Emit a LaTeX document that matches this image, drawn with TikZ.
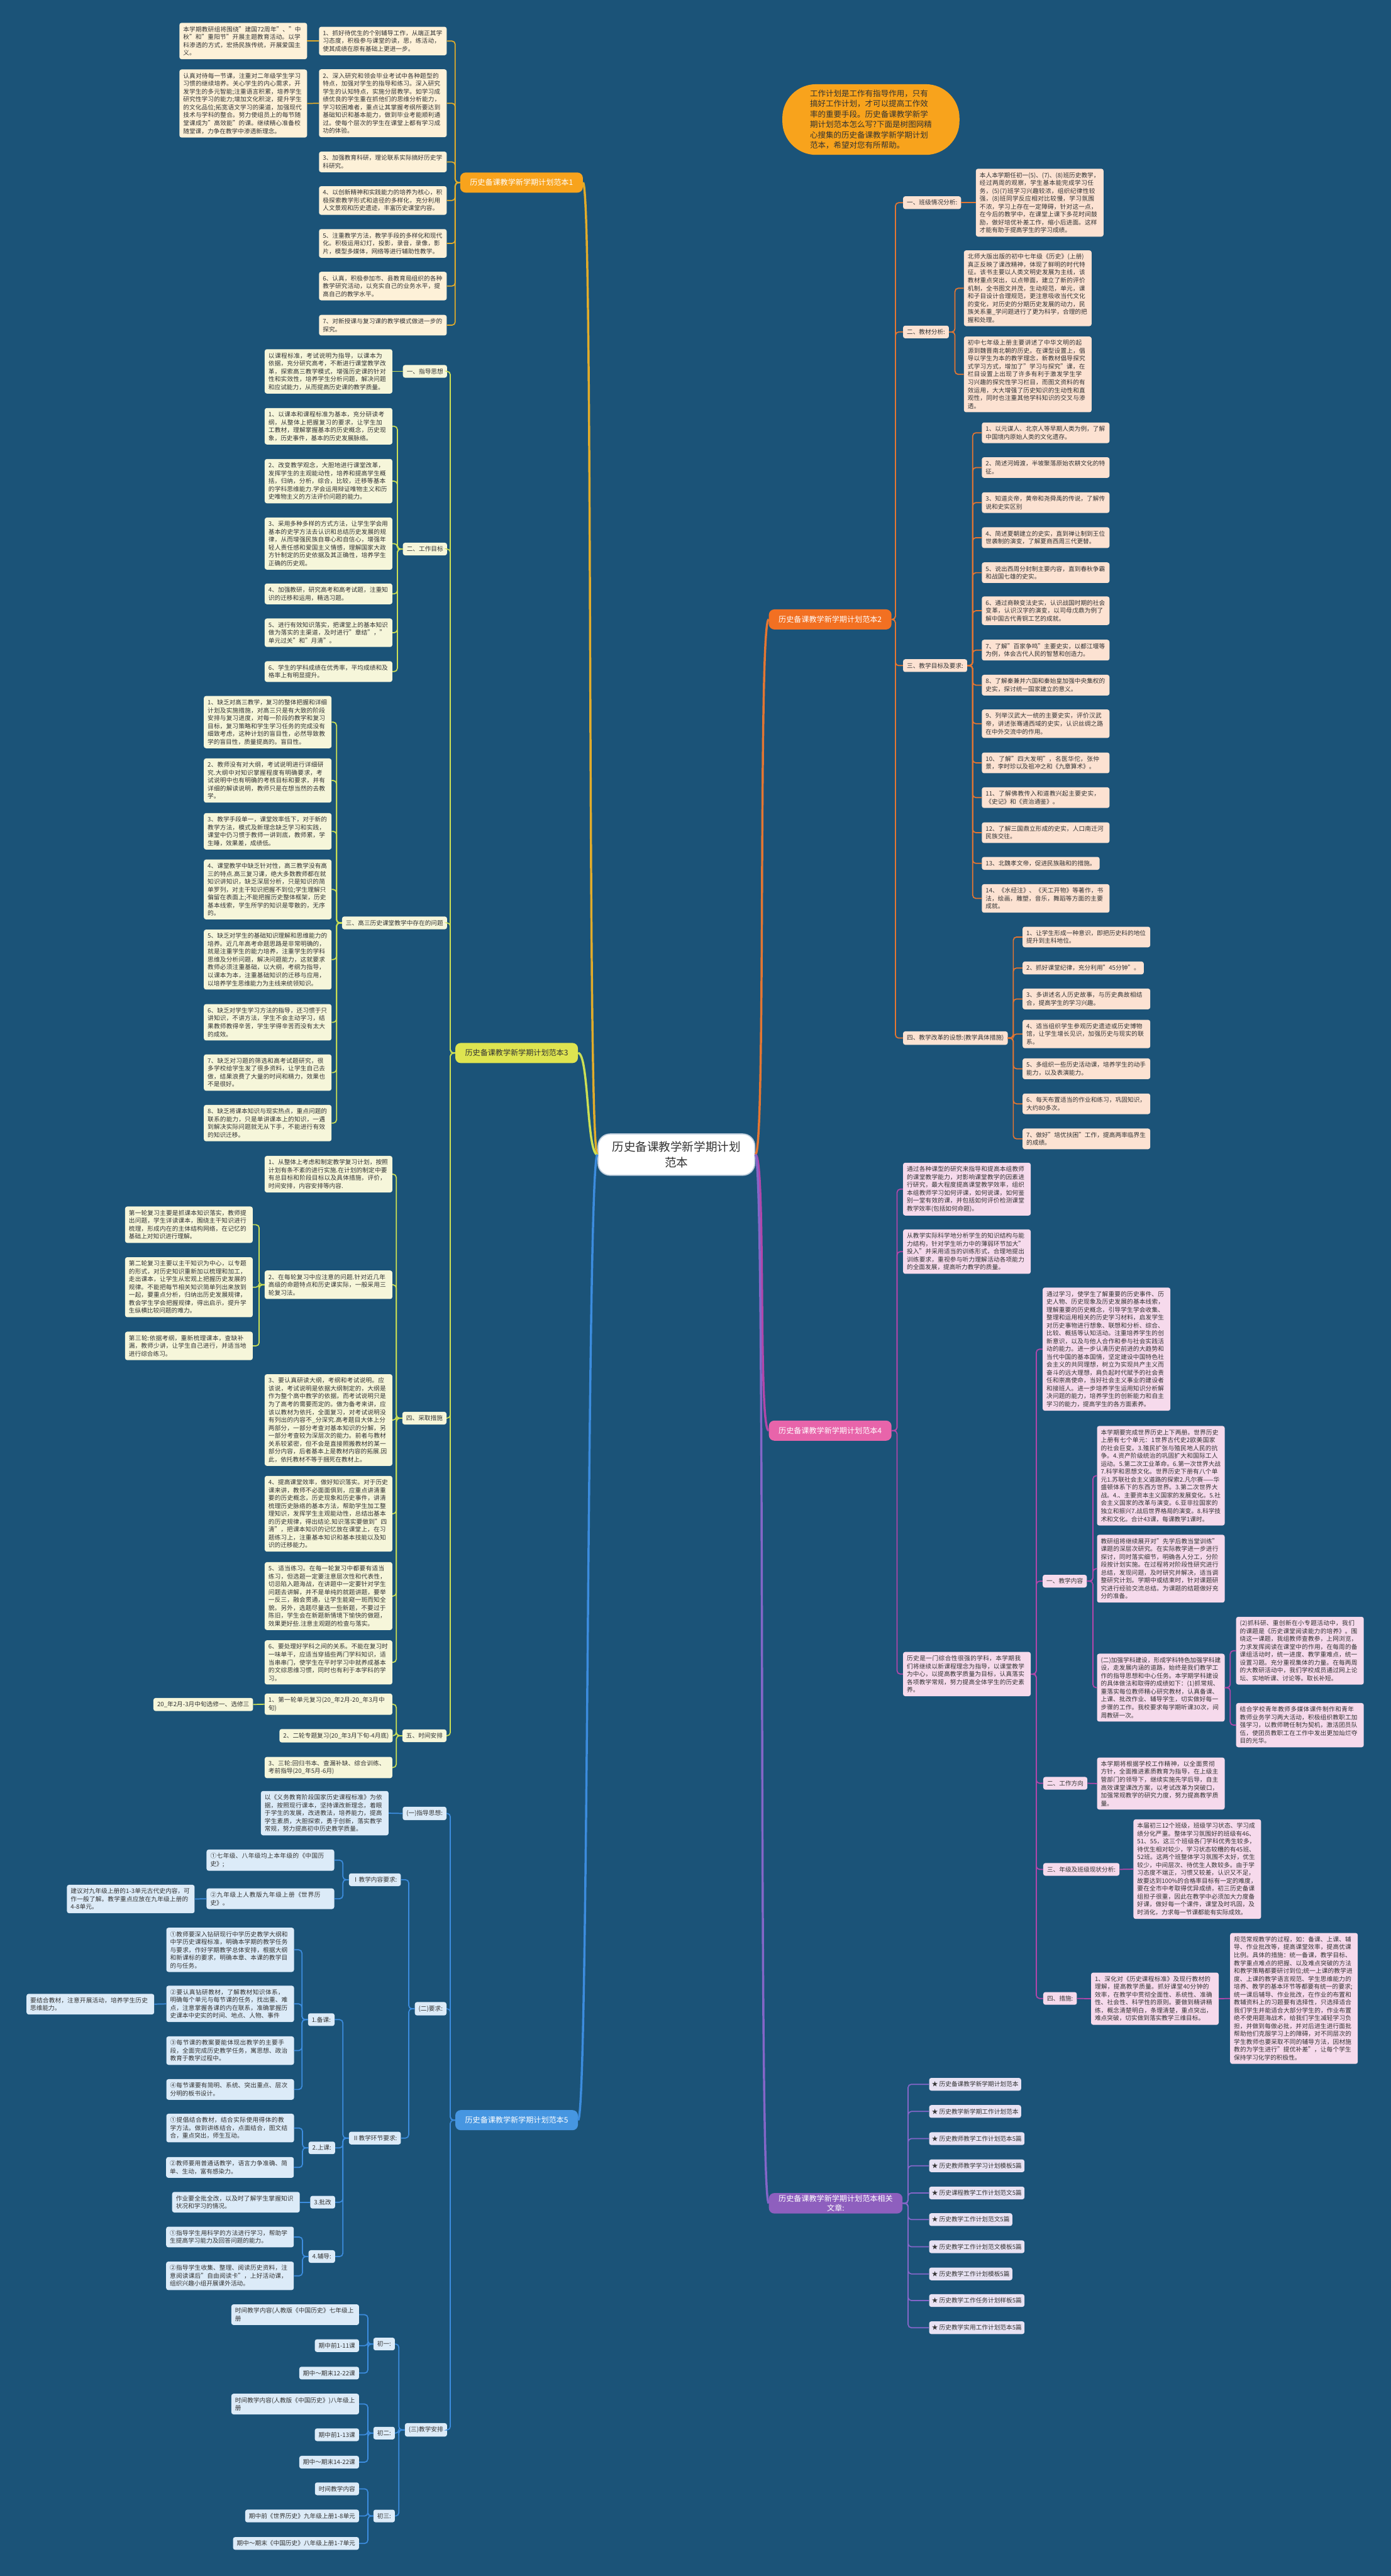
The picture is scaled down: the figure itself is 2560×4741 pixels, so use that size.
\documentclass[tikz,border=0pt]{standalone}
\usepackage{fontspec}
\setmainfont{Noto Sans CJK SC}
\XeTeXlinebreaklocale "zh"
\XeTeXlinebreakskip = 0pt plus 1pt
\definecolor{bg}{RGB}{27,83,120}
\definecolor{tx}{RGB}{51,51,51}
\definecolor{cbd}{RGB}{190,205,220}
\definecolor{oA}{RGB}{248,163,28}
\definecolor{lnA}{RGB}{226,172,42}
\definecolor{fA}{RGB}{253,241,216}
\definecolor{oB}{RGB}{242,112,34}
\definecolor{lnB}{RGB}{228,118,50}
\definecolor{fB}{RGB}{252,226,210}
\definecolor{yC}{RGB}{222,228,80}
\definecolor{lnC}{RGB}{204,224,84}
\definecolor{fC}{RGB}{246,246,218}
\definecolor{pD}{RGB}{232,100,170}
\definecolor{lnD}{RGB}{178,70,170}
\definecolor{fD}{RGB}{246,218,236}
\definecolor{bE}{RGB}{70,150,225}
\definecolor{lnE}{RGB}{60,140,222}
\definecolor{fE}{RGB}{220,235,248}
\definecolor{vF}{RGB}{142,95,190}
\definecolor{lnF}{RGB}{132,102,200}
\definecolor{fF}{RGB}{232,226,243}
\newcommand\fsn{\fontsize{11.2pt}{14.5pt}\selectfont}
\newcommand\fsb{\fontsize{14pt}{18pt}\selectfont}
\newcommand\fsc{\fontsize{21.5pt}{28pt}\selectfont}
\newcommand\fsk{\fontsize{14.5pt}{19.1pt}\selectfont}
\tikzset{
  bx/.style={rounded corners=4pt, inner xsep=7pt, inner ysep=6.5pt, font=\fsn, align=left, text=tx},
  nA/.style={bx, fill=fA, text width=221pt}, tA/.style={bx, fill=fA}, cA/.style={draw=lnA, line width=2pt, rounded corners=6pt},
  nB/.style={bx, fill=fB, text width=221pt}, tB/.style={bx, fill=fB}, cB/.style={draw=lnB, line width=2pt, rounded corners=6pt},
  nC/.style={bx, fill=fC, text width=221pt}, tC/.style={bx, fill=fC}, cC/.style={draw=lnC, line width=2pt, rounded corners=6pt},
  nD/.style={bx, fill=fD, text width=221pt}, tD/.style={bx, fill=fD}, cD/.style={draw=lnD, line width=2pt, rounded corners=6pt},
  nE/.style={bx, fill=fE, text width=221pt}, tE/.style={bx, fill=fE}, cE/.style={draw=lnE, line width=2pt, rounded corners=6pt},
  tF/.style={bx, fill=fF, inner xsep=5pt}, cF/.style={draw=lnF, line width=2pt, rounded corners=6pt},
  brn/.style={rounded corners=10pt, inner xsep=18pt, minimum height=37pt, font=\fsb, align=center},
  mline/.style={line width=4pt},
}
\begin{document}
\begin{tikzpicture}[x=1pt,y=-1pt]
\fill[bg] (0,0) rectangle (2560,4741);
\useasboundingbox (0,0) rectangle (2560,4741);

% ---------- centre ----------
\node[draw=cbd, line width=2pt, fill=white, rounded corners=22pt, inner xsep=26pt, inner ysep=14pt, font=\fsc, align=center, text=tx] (c) at (1245,2125) {历史备课教学新学期计划\\范本};

% ---------- callout ----------
\node[fill=oA, rounded corners=62pt, minimum width=326pt, minimum height=130pt, font=\fsk, align=left, text=tx] (k) at (1603,220) {工作计划是工作有指导作用，只有\\搞好工作计划，才可以提高工作效\\率的重要手段。历史备课教学新学\\期计划范本怎么写?下面是树图网精\\心搜集的历史备课教学新学期计划\\范本，希望对您有所帮助。};

% ---------- branch 1 ----------
\node[brn, fill=oA, text=white, anchor=east] (b1) at (1073,336) {历史备课教学新学期计划范本1};
\node[nA, anchor=west] (a1) at (587,75.5) {1、抓好待优生的个别辅导工作，从端正其学习态度，积极参与课堂的读，思，练活动，使其成绩在原有基础上更进一步。};
\node[nA, anchor=west] (a2) at (587,190) {2、深入研究和领会毕业考试中各种题型的特点，加强对学生的指导和练习。深入研究学生的认知特点，实施分层教学。如学习成绩优良的学生重在抓他们的思维分析能力，学习较困难者，重点让其掌握考纲所要达到基础知识和基本能力，做到毕业考能顺利通过。使每个层次的学生在课堂上都有学习成功的体验。};
\node[nA, anchor=west] (a3) at (587,298) {3、加强教育科研，理论联系实际搞好历史学科研究。};
\node[nA, anchor=west] (a4) at (587,369) {4、以创新精神和实践能力的培养为核心，积极探索教学形式和途径的多样化，充分利用人文景观和历史遗迹，丰富历史课堂内容。};
\node[nA, anchor=west] (a5) at (587,448) {5、注重教学方法，教学手段的多样化和现代化。积极运用幻灯，投影，录音，录像，影片，模型多媒体，网络等进行辅助性教学。};
\node[nA, anchor=west] (a6) at (587,526.5) {6、认真，积极参加市、县教育局组织的各种教学研究活动，以充实自己的业务水平，提高自己的教学水平。};
\node[nA, anchor=west] (a7) at (587,598.5) {7、对新授课与复习课的教学模式做进一步的探究。};
\node[nA, anchor=west] (a1n) at (330,75.5) {本学期教研组将围绕"建国72周年"、"中秋"和"重阳节"开展主题教育活动。以学科渗透的方式，宏扬民族传统，开展爱国主义。};
\node[nA, anchor=west] (a2n) at (330,190.5) {认真对待每一节课，注重对二年级学生学习习惯的继续培养。关心学生的内心需求，开发学生的多元智能;注重语言积累，培养学生研究性学习的能力;增加文化积淀，提升学生的文化品位;拓宽语文学习的渠道，加强现代技术与学科的整合。努力使组员上的每节随堂课成为"高效能"的课。继续精心准备校随堂课，力争在教学中渗透新理念。};
\foreach \i in {a1,a2,a3,a4,a5,a6,a7} \draw[cA] (b1.west) -- ++(-9pt,0) |- (\i.east);
\draw[cA] (a1.west) -- (a1n.east);
\draw[cA] (a2.west) -- (a2n.east);

% ---------- branch 2 ----------
\node[brn, fill=oB, text=white, anchor=west] (b2) at (1415,1140) {历史备课教学新学期计划范本2};
\node[tB, anchor=west] (r1) at (1662,373) {一、班级情况分析:};
\node[nB, anchor=west] (r1n) at (1796,373) {本人本学期任初一(5)、(7)、(8)班历史教学，经过两周的观察，学生基本能完成学习任务，(5)(7)班学习兴趣较浓，组织纪律性较强，(8)班同学反应相对比较慢，学习氛围不浓，学习上存在一定障碍，针对这一点，在今后的教学中，在课堂上课下多花时间鼓励，做好培优补差工作，缩小后进面。这样才能有助于提高学生的学习成绩。};
\node[tB, anchor=west] (r2) at (1662,611) {二、教材分析:};
\node[nB, anchor=west] (r2a) at (1774,530.5) {北师大版出版的初中七年级《历史》(上册)真正反映了课改精神，体现了鲜明的时代特征。该书主要以人类文明史发展为主线，该教材重点突出，以点带面，建立了新的评价机制，全书图文并茂，生动规范，单元，课和子目设计合理规范，更注意吸收当代文化的变化，对历史的分期历史发展的动力，民族关系重\_学问题进行了更为科学，合理的把握和处理。};
\node[nB, anchor=west] (r2b) at (1774,689) {初中七年级上册主要讲述了中华文明的起源到魏晋南北朝的历史。在课型设置上，倡导以学生为本的教学理念，新教材倡导探究式学习方式，增加了"学习与探究"课，在栏目设置上出现了许多有利于激发学生学习兴趣的探究性学习栏目，而图文资料的有效运用，大大增强了历史知识的生动性和直观性，同时也注重其他学科知识的交叉与渗透。};
\node[tB, anchor=west] (r3) at (1662,1225) {三、教学目标及要求:};
\node[nB, anchor=west] (q1) at (1807,796.5) {1、以元谋人、北京人等早期人类为例，了解中国境内原始人类的文化遗存。};
\node[nB, anchor=west] (q2) at (1807,860.5) {2、简述河姆渡，半坡聚落原始农耕文化的特征。};
\node[nB, anchor=west] (q3) at (1807,925) {3、知道炎帝，黄帝和尧舜禹的传说，了解传说和史实区别};
\node[nB, anchor=west] (q4) at (1807,989.5) {4、简述夏朝建立的史实，直到禅让制到王位世袭制的演变，了解夏商西周三代更替。};
\node[nB, anchor=west] (q5) at (1807,1054) {5、说出西周分封制主要内容，直到春秋争霸和战国七雄的史实。};
\node[nB, anchor=west] (q6) at (1807,1124) {6、通过商鞅变法史实，认识战国时期的社会变革，认识汉字的演变，以司母戊鼎为例了解中国古代青铜工艺的成就。};
\node[nB, anchor=west] (q7) at (1807,1196.5) {7、了解"百家争鸣"主要史实，以都江堰等为例，体会古代人民的智慧和创造力。};
\node[nB, anchor=west] (q8) at (1807,1261) {8、了解秦兼并六国和秦始皇加强中央集权的史实，探讨统一国家建立的意义。};
\node[nB, anchor=west] (q9) at (1807,1332) {9、列举汉武大一统的主要史实，评价汉武帝，讲述张骞通西域的史实，认识丝绸之路在中外交流中的作用。};
\node[nB, anchor=west] (q10) at (1807,1404) {10、了解"四大发明"，名医华佗，张仲景，李时珍以及祖冲之和《九章算术》。};
\node[nB, anchor=west] (q11) at (1807,1468) {11、了解佛教传入和道教兴起主要史实，《史记》和《资治通鉴》。};
\node[nB, anchor=west] (q12) at (1807,1532.5) {12、了解三国鼎立形成的史实，人口南迁河民族交往。};
\node[tB, anchor=west] (q13) at (1807,1589) {13、北魏孝文帝，促进民族融和的措施。};
\node[nB, anchor=west] (q14) at (1807,1653.5) {14、《水经注》、《天工开物》等著作，书法，绘画，雕塑，音乐，舞蹈等方面的主要成就。};
\node[tB, anchor=west] (r4) at (1662,1910.5) {四、教学改革的设想:(教学具体措施)};
\node[nB, anchor=west] (s1) at (1882,1724.5) {1、让学生形成一种意识，即把历史科的地位提升到主科地位。};
\node[tB, anchor=west] (s2) at (1882,1781.5) {2、抓好课堂纪律，充分利用"45分钟"。};
\node[nB, anchor=west] (s3) at (1882,1838.5) {3、多讲述名人历史故事，与历史典故相结合，提高学生的学习兴趣。};
\node[nB, anchor=west] (s4) at (1882,1903) {4、适当组织学生参观历史遗迹或历史博物馆，让学生增长见识，加强历史与现实的联系。};
\node[nB, anchor=west] (s5) at (1882,1967) {5、多组织一些历史活动课，培养学生的动手能力，以及表演能力。};
\node[nB, anchor=west] (s6) at (1882,2031.5) {6、每天布置适当的作业和练习，巩固知识，大约80多次。};
\node[nB, anchor=west] (s7) at (1882,2096) {7、做好"培优扶困"工作，提高两率临界生的成绩。};
\foreach \i in {r1,r2,r3,r4} \draw[cB] (b2.east) -- ++(7pt,0) |- (\i.west);
\draw[cB] (r1.east) -- (r1n.west);
\foreach \i in {r2a,r2b} \draw[cB] (r2.east) -- ++(11pt,0) |- (\i.west);
\foreach \i in {q1,q2,q3,q4,q5,q6,q7,q8,q9,q10,q11,q12,q13,q14} \draw[cB] (r3.east) -- ++(10pt,0) |- (\i.west);
\foreach \i in {s1,s2,s3,s4,s5,s6,s7} \draw[cB] (r4.east) -- ++(10pt,0) |- (\i.west);

% ---------- branch 3 ----------
\node[brn, fill=yC, text=tx, anchor=east] (b3) at (1064,1938) {历史备课教学新学期计划范本3};
\node[tC, anchor=east] (g1) at (823,683.5) {一、指导思想};
\node[nC, anchor=west] (g1n) at (487,683.5) {以课程标准，考试说明为指导，以课本为依据，充分研究高考，不断进行课堂教学改革，探索高三教学模式，增强历史课的针对性和实效性，培养学生分析问题，解决问题和应试能力，从而提高历史课的教学质量。};
\node[tC, anchor=east] (g2) at (823,1010.5) {二、工作目标};
\node[nC, anchor=west] (h1) at (487,784.5) {1、以课本和课程标准为基本，充分研读考纲，从整体上把握复习的要求，让学生加工教材，理解掌握基本的历史概念，历史现象，历史事件，基本的历史发展脉络。};
\node[nC, anchor=west] (h2) at (487,885.5) {2、改变教学观念，大胆地进行课堂改革，发挥学生的主观能动性，培养和提高学生概括，归纳，分析，综合，比较，迁移等基本的学科思维能力.学会运用辩证唯物主义和历史唯物主义的方法评价问题的能力。};
\node[nC, anchor=west] (h3) at (487,1000.5) {3、采用多种多样的方式方法，让学生学会用基本的史学方法去认识和总结历史发展的规律，从而增强民族自尊心和自信心，增强年轻人责任感和爱国主义情感，理解国家大政方针制定的历史依据及其正确性，培养学生正确的历史观。};
\node[nC, anchor=west] (h4) at (487,1093) {4、加强教研，研究高考和高考试题，注重知识的迁移和运用，精选习题。};
\node[nC, anchor=west] (h5) at (487,1164.5) {5、进行有效知识落实，把课堂上的基本知识做为落实的主渠道，及时进行"章结"，"单元过关"和"月清"。};
\node[nC, anchor=west] (h6) at (487,1236) {6、学生的学科成绩在优秀率，平均成绩和及格率上有明显提升。};
\node[tC, anchor=east] (g3) at (823,1698.5) {三、高三历史课堂教学中存在的问题};
\node[nC, anchor=west] (p1) at (375,1329) {1、缺乏对高三教学，复习的整体把握和详细计划及实施措施，对高三只是有大致的阶段安排与复习进度，对每一阶段的教学和复习目标，复习策略和学生学习任务的完成没有细致考虑，这种计划的盲目性，必然导致教学的盲目性，质量提高的。盲目性。};
\node[nC, anchor=west] (p2) at (375,1436.5) {2、教师没有对大纲，考试说明进行详细研究.大纲中对知识掌握程度有明确要求，考试说明中也有明确的考核目标和要求，并有详细的解读说明，教师只是在想当然的去教学。};
\node[nC, anchor=west] (p3) at (375,1530) {3、教学手段单一，课堂效率低下，对于新的教学方法，模式及新理念缺乏学习和实践，课堂中仍习惯于教师一讲到底，教师累，学生睡，效果差，成绩低。};
\node[nC, anchor=west] (p4) at (375,1637) {4、课堂教学中缺乏针对性，高三教学没有高三的特点.高三复习课，绝大多数教师都在就知识讲知识，缺乏深层分析，只是知识的简单罗列，对主干知识把握不到位;学生理解只偏留在表面上;不能把握历史整体框架，历史基本线索，学生所学的知识是零散的，无序的。};
\node[nC, anchor=west] (p5) at (375,1766) {5、缺乏对学生的基础知识理解和思维能力的培养。近几年高考命题思路是非常明确的，就是注重学生的能力培养，注重学生的学科思维及分析问题，解决问题能力，这就要求教师必须注重基础，以大纲，考纲为指导，以课本为本，注重基础知识的迁移与应用，以培养学生思维能力为主线来统领知识。};
\node[nC, anchor=west] (p6) at (375,1881.5) {6、缺乏对学生学习方法的指导，还习惯于只讲知识，不讲方法，学生不会主动学习，结果教师教得辛苦，学生学得辛苦而没有太大的成效。};
\node[nC, anchor=west] (p7) at (375,1974) {7、缺乏对习题的筛选和高考试题研究，很多学校给学生发了很多资料，让学生自己去做，结果浪费了大量的时间和精力，效果也不是很好。};
\node[nC, anchor=west] (p8) at (375,2067) {8、缺乏将课本知识与现实热点，重点问题的联系的能力，只是单讲课本上的知识，一遇到解决实际问题就无从下手，不能进行有效的知识迁移。};
\node[tC, anchor=east] (g4) at (822,2610) {四、采取措施};
\node[nC, anchor=west] (m1) at (487,2161) {1、从整体上考虑和制定教学复习计划，按照计划有条不紊的进行实施.在计划的制定中要有总目标和阶段目标以及具体措施，评价，时间安排，内容安排等内容.};
\node[nC, anchor=west] (m2) at (487,2364.5) {2、在每轮复习中应注意的问题.针对近几年高级的命题特点和历史课实际，一般采用三轮复习法。};
\node[nC, anchor=west] (m3) at (487,2613.5) {3、要认真研读大纲，考纲和考试说明。应该说，考试说明是依据大纲制定的，大纲是作为整个高中教学的依据，而考试说明只是为了高考的需要而定的。做为备考来讲，应该以教材为依托，全面复习，对考试说明没有列出的内容不\_分深究.高考题目大体上分两部分，一部分考查对基本知识的分解，另一部分考查较为深层次的能力。前者与教材关系较紧密，但不会是直接照搬教材的某一部分内容，后者基本上是教材内容的拓展.因此，依托教材不等于捆死在教材上。};
\node[nC, anchor=west] (m4) at (487,2786) {4、提高课堂效率，做好知识落实。对于历史课来讲，教师不必面面俱到，应重点讲清重要的历史概念，历史现象和历史事件，讲清梳理历史脉络的基本方法，帮助学生加工整理知识，发挥学生主观能动性，总结出基本的历史规律，得出结论.知识落实要做到"四清"，把课本知识的记忆放在课堂上，在习题练习上，注重基本知识和基本技能以及知识的迁移能力。};
\node[nC, anchor=west] (m5) at (487,2937.5) {5、适当练习。在每一轮复习中都要有适当练习，但选题一定要注意层次性和代表性，切忌陷入题海战，在讲题中一定要针对学生问题去讲解，并不是单纯的就题讲题，要举一反三，融会贯通，让学生能窥一斑而知全貌。另外，选题尽量选一些新题，不要过于陈旧，学生会在新题新情境下愉快的做题，效果更好些.注意主观题的检查与落实。};
\node[nC, anchor=west] (m6) at (487,3059.5) {6、要处理好学科之间的关系。不能在复习时一味单干，应适当穿插些两门学科知识，适当串串门，使学生在平时学习中就养成基本的文综思维习惯，同时也有利于本学科的学习。};
\node[nC, anchor=west] (m2a) at (230,2254) {第一轮复习主要是抓课本知识落实，教师提出问题，学生详读课本，围绕主干知识进行梳理，形成内在的主体结构网络，在记忆的基础上对知识进行理解。};
\node[nC, anchor=west] (m2b) at (230,2369) {第二轮复习主要以主干知识为中心，以专题的形式，对历史知识重新加以梳理和加工，走出课本，让学生从宏观上把握历史发展的规律。不能把每节相关知识简单列出来放到一起，要重点分析，归纳出历史发展规律，教会学生学会把握规律，得出启示，提升学生纵横比较问题的难力。};
\node[nC, anchor=west] (m2c) at (230,2477) {第三轮:依据考纲，重新梳理课本，查缺补漏，教师少讲，让学生自己进行，并适当地进行综合练习。};
\node[tC, anchor=east] (g5) at (822,3194.5) {五、时间安排};
\node[nC, anchor=west] (t1) at (487,3136.5) {1、第一轮单元复习(20\_年2月-20\_年3月中旬)};
\node[tC, anchor=east] (t2) at (723,3194.5) {2、二轮专题复习(20\_年3月下旬-4月底)};
\node[nC, anchor=west] (t3) at (487,3253) {3、三轮:回归书本、查漏补缺、综合训练、考前指导(20\_年5月-6月)};
\node[tC, anchor=east] (t1n) at (466,3137) {20\_年2月-3月中旬选修一、选修三};
\foreach \i in {g1,g2,g3,g4,g5} \draw[cC] (b3.west) -- ++(-9pt,0) |- (\i.east);
\draw[cC] (g1.west) -- (g1n.east);
\foreach \i in {h1,h2,h3,h4,h5,h6} \draw[cC] (g2.west) -- ++(-10pt,0) |- (\i.east);
\foreach \i in {p1,p2,p3,p4,p5,p6,p7,p8} \draw[cC] (g3.west) -- ++(-10pt,0) |- (\i.east);
\foreach \i in {m1,m2,m3,m4,m5,m6} \draw[cC] (g4.west) -- ++(-11pt,0) |- (\i.east);
\foreach \i in {m2a,m2b,m2c} \draw[cC] (m2.west) -- ++(-10pt,0) |- (\i.east);
\foreach \i in {t1,t2,t3} \draw[cC] (g5.west) -- ++(-11pt,0) |- (\i.east);
\draw[cC] (t1.west) -- (t1n.east);

% ---------- branch 4 ----------
\node[brn, fill=pD, text=white, anchor=west] (b4) at (1415,2633) {历史备课教学新学期计划范本4};
\node[nD, anchor=west] (d1) at (1662,2188.5) {通过各种课型的研究来指导和提高本组教师的课堂教学能力，对影响课堂教学的因素进行研究，最大程度提高课堂教学效率，组织本组教师学习如何评课，如何说课，如何鉴别一堂有效的课，并包括如何评价检测课堂教学效率(包括如何命题)。};
\node[nD, anchor=west] (d2) at (1662,2303.5) {从教学实际科学地分析学生的知识结构与能力结构，针对学生听力中的薄弱环节加大"投入"并采用适当的训练形式，合理地提出训练要求，重视参与听力理解活动各项能力的全面发展，提高听力教学的质量。};
\node[nD, anchor=west] (d3) at (1662,3081) {历史是一门综合性很强的学科，本学期我们将继续以新课程理念为指导，以课堂教学为中心，以提高教学质量为目标，认真落实各项教学常规，努力提高全体学生的历史素养。};
\node[nD, anchor=west] (e0) at (1919,2483) {通过学习，使学生了解重要的历史事件、历史人物、历史现象及历史发展的基本线索，理解重要的历史概念，引导学生学会收集、整理和运用相关的历史学习材料，启发学生对历史事物进行想象、联想和分析、综合、比较、概括等认知活动。注重培养学生的创新意识，以及与他人合作和参与社会实践活动的能力。进一步认清历史前进的大趋势和当代中国的基本国情，坚定建设中国特色社会主义的共同理想，树立为实现共产主义而奋斗的远大理想，肩负起时代赋予的社会责任和崇高使命，当好社会主义事业的建设者和接班人。进一步培养学生运用知识分析解决问题的能力，培养学生的创新能力和自主学习的能力，提高学生的各方面素养。};
\node[tD, anchor=west] (e1) at (1919,2910) {一、教学内容};
\node[nD, anchor=west] (e1a) at (2019,2716) {本学期要完成世界历史上下两册。世界历史上册有七个单元：1世界古代史2欧美国家的社会巨变。3.殖民扩张与殖民地人民的抗争。4.资产阶级统治的巩固扩大和国际工人运动。5.第二次工业革命。6.第一次世界大战7.科学和思想文化。世界历史下册有八个单元1.苏联社会主义道路的探索2.凡尔赛——华盛顿体系下的东西方世界。3.第二次世界大战。4.、主要资本主义国家的发展变化。5.社会主义国家的改革与演变。6.亚非拉国家的独立和振兴7.战后世界格局的演变。8.科学技术和文化。合计43课，每课教学1课时。};
\node[nD, anchor=west] (e1b) at (2019,2887) {教研组将继续展开对"先学后教当堂训练"课题的深层次研究。在实际教学进一步进行探讨，同时落实细节，明确各人分工，分阶段按计划实施。在过程将对阶段性研究进行总结，发现问题，及时研究并解决，适当调整研究计划。学期中或结束时，针对课题研究进行经验交流总结。为课题的结题做好充分的准备。};
\node[nD, anchor=west] (e1c) at (2019,3106) {(二)加强学科建设，形成学科特色加强学科建设，走发展内涵的道路，始终是我们教学工作的指导思想和中心任务。本学期学科建设的具体做法和取得的成绩如下：(1)抓常规、重落实每位教师精心研究教材，认真备课、上课、批改作业、辅导学生，切实做好每一步骤的工作。我校要求每学期听课30次，间周教研一次。};
\node[nD, anchor=west] (e1c1) at (2275,3038) {(2)抓科研、重创新在小专题活动中，我们的课题是《历史课堂阅读能力的培养》。围绕这一课题，我组教师查教参，上网浏览，力求发挥阅读在课堂中的作用，在每周的备课组活动时，统一进度、教学重难点，统一设置习题。充分重视集体的力量。在每两周的大教研活动中，我们学校成员通过网上论坛、实地听课、讨论等。取长补短。};
\node[nD, anchor=west] (e1c2) at (2275,3175) {结合学校青年教师多媒体课件制作和青年教师业务学习两大活动，积极组织教职工加强学习，以教师聘任制为契机，激活团员队伍，使团员教职工在工作中发出更加灿烂夺目的光华。};
\node[tD, anchor=west] (e2) at (1920,3282) {二、工作方向};
\node[nD, anchor=west] (e2n) at (2019,3282.5) {本学期将根据学校工作精神，以全面贯彻方针，全面推进素质教育为指导，在上级主管部门的领导下，继续实施先学后导，自主高效课堂课改方案，以考试改革为突破口，加强常规教学的研究力度，努力提高教学质量。};
\node[tD, anchor=west] (e3) at (1920,3440.5) {三、年级及班级现状分析:};
\node[nD, anchor=west] (e3n) at (2086,3440) {本届初三12个班级，班级学习状态、学习成绩分化严重。整体学习氛围好的班级有46、51、55，这三个班级各门学科优秀生较多，待优生相对较少，学习状态较糟的有45班、52班。这两个班整体学习氛围不太好，优生较少，中间层次、待优生人数较多。由于学习态度不端正，习惯又较差，认识又不足，故要达到100\%的合格率目标有一定的难度，要在全市中考取得优异成绩，初三历史备课组担子很重，因此在教学中必须加大力度备好课，做好每一个课件，课堂及时巩固，及时消化，力求每一节课都能有实际成效。};
\node[tD, anchor=west] (e4) at (1920,3678) {四、措施:};
\node[nD, anchor=west] (e4n) at (2008,3678.5) {1、深化对《历史课程标准》及现行教材的理解，提高教学质量。抓好课堂40分钟的效率，在教学中贯彻全面性、系统性、准确性、社会性、科学性的原则。要做到精讲精练，概念清楚明白，条理清楚，重点突出，难点突破，切实做到落实教学三维目标。};
\node[nD, anchor=west] (e4m) at (2264,3678) {规范常规教学的过程，如：备课、上课、辅导、作业批改等，提高课堂效率，提高优课比例。具体的措施：统一备课，教学目标、教学重点难点的把握、以及难点突破的方法和教学策略都要研讨到位;统一上课的教学进度、上课的教学语言规范、学生思维能力的培养、教学的基本环节等都要有统一的要求;统一课后辅导、作业批改，在作业的布置和教辅资料上的习题要有选择性，只选择适合我们学生并能适合大部分学生的，作业布置绝不使用题海战术，给我们学生减轻学习负担，并做到每做必批，并对后进生进行面批帮助他们克服学习上的障碍，对不同层次的学生教师也要采取不同的辅导方法，因材施教的为学生进行"提优补差"，让每个学生保持学习化学的积极性。};
\foreach \i in {d1,d2,d3} \draw[cD] (b4.east) -- ++(10pt,0) |- (\i.west);
\foreach \i in {e0,e1,e2,e3,e4} \draw[cD] (d3.east) -- ++(10pt,0) |- (\i.west);
\foreach \i in {e1a,e1b,e1c} \draw[cD] (e1.east) -- ++(11pt,0) |- (\i.west);
\foreach \i in {e1c1,e1c2} \draw[cD] (e1c.east) -- ++(10pt,0) |- (\i.west);
\draw[cD] (e2.east) -- (e2n.west);
\draw[cD] (e3.east) -- (e3n.west);
\draw[cD] (e4.east) -- (e4n.west);
\draw[cD] (e4n.east) -- (e4m.west);

% ---------- branch 5 ----------
\node[brn, fill=bE, text=white, anchor=east] (b5) at (1064,3902) {历史备课教学新学期计划范本5};
\node[tE, anchor=east] (f1) at (822,3337.5) {(一)指导思想:};
\node[nE, anchor=west] (f1n) at (480,3337) {以《义务教育阶段国家历史课程标准》为依据，按照现行课本，坚持课改新理念，着眼于学生的发展，改进教法，培养能力，提高学生素质，大胆探索，勇于创新，落实教学常规，努力提高初中历史教学质量。};
\node[tE, anchor=east] (f2) at (822,3697) {(二)要求:};
\node[tE, anchor=east] (f2a) at (738,3459.5) {Ⅰ教学内容要求:};
\node[nE, anchor=west] (f2a1) at (380,3423.5) {①七年级、八年级均上本年级的《中国历史》;};
\node[nE, anchor=west] (f2a2) at (380,3494.5) {②九年级上人教版九年级上册《世界历史》。};
\node[nE, anchor=west] (f2a2n) at (123,3495) {建议对九年级上册的1-3单元古代史内容，可作一般了解。教学重点应放在九年级上册的4-8单元。};
\node[tE, anchor=east] (f2b) at (738,3935) {Ⅱ教学环节要求:};
\node[tE, anchor=east] (u1) at (616,3717) {1.备课:};
\node[nE, anchor=west] (u1a) at (306,3588.5) {①教师要深入钻研现行中学历史教学大纲和中学历史课程标准，明确本学期的教学任务与要求，作好学期教学总体安排，根据大纲和新课标的要求，明确本章、本课的教学目的与任务。};
\node[nE, anchor=west] (u1b) at (306,3688) {②要认真钻研教材，了解教材知识体系，明确每个单元与每节课的任务，找出重、难点，注意掌握各课的内在联系，准确掌握历史课本中史实的时间、地点、人物、事件};
\node[nE, anchor=west] (u1c) at (306,3774) {③每节课的教案要能体现出教学的主要手段，全面完成历史教学任务，寓思想、政治教育于教学过程中。};
\node[nE, anchor=west] (u1d) at (306,3845.5) {④每节课要有简明、系统、突出重点、层次分明的板书设计。};
\node[nE, anchor=east] (u1bn) at (284,3688.5) {要结合教材，注意开展活动，培养学生历史思维能力。};
\node[tE, anchor=east] (u2) at (617,3953) {2.上课:};
\node[nE, anchor=west] (u2a) at (306,3916.5) {①提倡结合教材，结合实际使用得体的教学方法。做到讲练结合，点面结合，图文结合，重点突出，师生互动。};
\node[nE, anchor=east] (u2b) at (541,3989) {②教师要用普通话教学，语言力争准确、简单、生动，富有感染力。};
\node[tE, anchor=east] (u3) at (617,4053) {3.批改};
\node[nE, anchor=east] (u3a) at (552,4053) {作业要全批全改，以及时了解学生掌握知识状况和学习的情况。};
\node[tE, anchor=east] (u4) at (617,4153) {4.辅导:};
\node[nE, anchor=east] (u4a) at (541,4117) {①指导学生用科学的方法进行学习，帮助学生提高学习能力及回答问题的能力。};
\node[nE, anchor=east] (u4b) at (541,4188.5) {②指导学生收集、整理、阅读历史资料，注意阅读课后"自由阅读卡"，上好活动课，组织兴趣小组开展课外活动。};
\node[tE, anchor=east] (f3) at (823,4472) {(三)教学安排};
\node[tE, anchor=east] (v1) at (727,4314) {初一:};
\node[nE, anchor=east] (v1a) at (661,4260) {时间教学内容(人教版《中国历史》七年级上册};
\node[tE, anchor=east] (v1b) at (661,4317) {期中前1-11课};
\node[tE, anchor=east] (v1c) at (661,4367.5) {期中～期末12-22课};
\node[tE, anchor=east] (v2) at (727,4478) {初二:};
\node[nE, anchor=east] (v2a) at (661,4424.5) {时间教学内容(人教版《中国历史》)八年级上册};
\node[tE, anchor=east] (v2b) at (661,4481) {期中前1-13课};
\node[tE, anchor=east] (v2c) at (661,4531.5) {期中～期末14-22课};
\node[tE, anchor=east] (v3) at (727,4630.5) {初三:};
\node[tE, anchor=east] (v3a) at (661,4580.5) {时间教学内容};
\node[tE, anchor=east] (v3b) at (661,4630.5) {期中前《世界历史》九年级上册1-8单元};
\node[tE, anchor=east] (v3c) at (661,4681) {期中～期末《中国历史》八年级上册1-7单元};
\foreach \i in {f1,f2,f3} \draw[cE] (b5.west) -- ++(-9pt,0) |- (\i.east);
\draw[cE] (f1.west) -- (f1n.east);
\foreach \i in {f2a,f2b} \draw[cE] (f2.west) -- ++(-11pt,0) |- (\i.east);
\foreach \i in {f2a1,f2a2} \draw[cE] (f2a.west) -- ++(-11pt,0) |- (\i.east);
\draw[cE] (f2a2.west) -- (f2a2n.east);
\foreach \i in {u1,u2,u3,u4} \draw[cE] (f2b.west) -- ++(-11pt,0) |- (\i.east);
\foreach \i in {u1a,u1b,u1c,u1d} \draw[cE] (u1.west) -- ++(-11pt,0) |- (\i.east);
\draw[cE] (u1b.west) -- (u1bn.east);
\foreach \i in {u2a,u2b} \draw[cE] (u2.west) -- ++(-11pt,0) |- (\i.east);
\draw[cE] (u3.west) -- (u3a.east);
\foreach \i in {u4a,u4b} \draw[cE] (u4.west) -- ++(-11pt,0) |- (\i.east);
\foreach \i in {v1,v2,v3} \draw[cE] (f3.west) -- ++(-11pt,0) |- (\i.east);
\foreach \i in {v1a,v1b,v1c} \draw[cE] (v1.west) -- ++(-10pt,0) |- (\i.east);
\foreach \i in {v2a,v2b,v2c} \draw[cE] (v2.west) -- ++(-10pt,0) |- (\i.east);
\foreach \i in {v3a,v3b,v3c} \draw[cE] (v3.west) -- ++(-10pt,0) |- (\i.east);

% ---------- branch 6 ----------
\node[brn, fill=vF, text=white, anchor=west] (b6) at (1415,4055) {历史备课教学新学期计划范本相关\\文章:};
\node[tF, anchor=west] (w1) at (1710,3836) {★ 历史备课教学新学期计划范本};
\node[tF, anchor=west] (w2) at (1710,3886) {★ 历史教学新学期工作计划范本};
\node[tF, anchor=west] (w3) at (1710,3936) {★ 历史教师教学工作计划范本5篇};
\node[tF, anchor=west] (w4) at (1710,3986) {★ 历史教师教学学习计划模板5篇};
\node[tF, anchor=west] (w5) at (1710,4036) {★ 历史课程教学工作计划范文5篇};
\node[tF, anchor=west] (w6) at (1710,4085) {★ 历史教学工作计划范文5篇};
\node[tF, anchor=west] (w7) at (1710,4135) {★ 历史教学工作计划范文模板5篇};
\node[tF, anchor=west] (w8) at (1710,4185) {★ 历史教学工作计划模板5篇};
\node[tF, anchor=west] (w9) at (1710,4234) {★ 历史教学工作任务计划样板5篇};
\node[tF, anchor=west] (w10) at (1710,4284) {★ 历史教学实用工作计划范本5篇};
\foreach \i in {w1,w2,w3,w4,w5,w6,w7,w8,w9,w10} \draw[cF] (b6.east) -- ++(10pt,0) |- (\i.west);

% ---------- main connectors ----------
\draw[mline, draw=lnA] (c.west) .. controls +(-20pt,0) and +(20pt,0) .. (b1.east);
\draw[mline, draw=lnC] (c.west) .. controls +(-20pt,0) and +(20pt,0) .. (b3.east);
\draw[mline, draw=lnE] (c.west) .. controls +(-20pt,0) and +(20pt,0) .. (b5.east);
\draw[mline, draw=lnB] (c.east) .. controls +(20pt,0) and +(-20pt,0) .. (b2.west);
\draw[mline, draw=lnD] (c.east) .. controls +(20pt,0) and +(-20pt,0) .. (b4.west);
\draw[mline, draw=lnF] (c.east) .. controls +(20pt,0) and +(-20pt,0) .. (b6.west);
\end{tikzpicture}
\end{document}
